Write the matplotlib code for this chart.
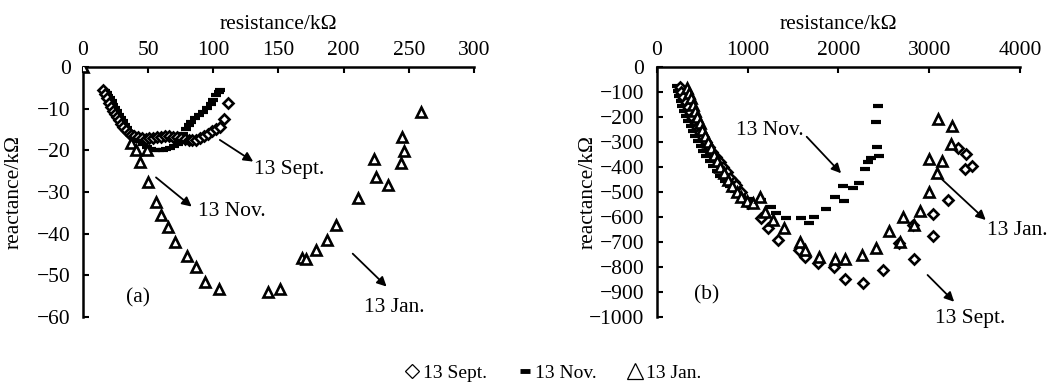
import matplotlib
matplotlib.use("Agg")
import matplotlib.pyplot as plt
from matplotlib.lines import Line2D

plt.rcParams["font.family"] = ["Liberation Serif", "DejaVu Serif"]
plt.rcParams["font.size"] = 15.5

# ---- panel (a): values in kOhm ----
sept_a_x = [15.5, 17, 18.5, 20, 21.5, 23, 24.5, 26, 27.5, 29, 31, 33, 35, 37, 39, 42, 45, 48, 51, 54,
            57, 60, 63, 66, 69, 72, 75, 78, 81, 84, 87, 90, 93, 96, 99, 102, 105, 108, 111]
sept_a_y = [-5.4, -6.5, -7.5, -8.6, -9.6, -10.5, -11.3, -12, -12.8, -13.6, -14.4, -15.1, -15.8, -16.3,
            -16.6, -16.9, -17.1, -17.2, -17.1, -17, -16.9, -16.7, -16.6, -16.6, -16.8, -16.9, -17.1,
            -17.3, -17.5, -17.6, -17.4, -17, -16.5, -16, -15.4, -14.9, -14.3, -12.4, -8.6]

nov_a_x = [17, 18.5, 19.5, 21, 22, 23, 24.5, 26, 27.5, 29, 30.5, 32, 34, 36, 38, 40, 43, 46, 49, 52,
           55, 58, 61, 64, 67, 70, 73, 75, 77, 79, 81, 83, 86, 89, 92, 95, 98, 100, 102, 104, 105]
nov_a_y = [-5.8, -6.3, -6.9, -7.5, -8.2, -9, -9.8, -10.6, -11.4, -12.2, -13, -13.8, -14.7, -15.5,
           -16.3, -17, -17.8, -18.5, -19.1, -19.6, -19.9, -20, -19.9, -19.7, -19.4, -19, -18.5, -17.5,
           -16, -14.8, -14, -13.2, -12.3, -11.6, -10.8, -9.8, -8.8, -7.8, -6.8, -6, -5.5]

jan_a_x = [0, 37, 41, 49, 44, 50, 56, 60, 65, 70.5, 79.5, 86.7, 93.6, 104.5, 141.6, 151, 167.7,
           171.5, 178.7, 187.4, 194, 211, 223, 224.7, 234, 244.4, 246, 245, 259.7]
jan_a_y = [0, -18.2, -19.9, -20, -22.7, -27.5, -32.3, -35.5, -38.3, -41.9, -45.3, -47.9, -51.7, -53.2,
           -54.1, -53.3, -45.9, -46.1, -43.9, -41.5, -37.9, -31.5, -22.1, -26.5, -28.3, -23.1, -20.1,
           -16.7, -10.7]

# ---- panel (b): values in kOhm ----
sept_b_x = [250, 270, 290, 315, 340, 365, 390, 415, 445, 475, 505, 540, 575, 610, 650, 690, 730, 770,
            810, 850, 876, 930, 1004, 1150, 1223, 1333, 1564, 1626, 1773, 1956, 2077, 2275, 2487, 2663,
            2817, 2835, 3044, 3044, 3209, 3322, 3403, 3392, 3469]
sept_b_y = [-80, -100, -120, -140, -160, -180, -200, -220, -240, -260, -280, -300, -320, -340, -360,
            -380, -400, -420, -445, -460, -472, -499, -545, -605, -645, -692, -732, -759, -785, -801,
            -848, -865, -812, -705, -632, -768, -676, -589, -532, -325, -349, -408, -396]

nov_b_x = [216, 230, 245, 262, 280, 300, 320, 345, 370, 395, 420, 450, 480, 510, 545, 580, 620, 660,
           700, 750, 800, 860, 930, 1000, 1150, 1260, 1315, 1425, 1590, 1674, 1736, 1864, 1967, 2066,
           2047, 2157, 2231, 2297, 2322, 2359, 2451, 2421, 2414, 2432]
nov_b_y = [-76, -95, -115, -135, -155, -175, -195, -215, -235, -255, -275, -295, -315, -335, -355, -375,
           -395, -415, -435, -455, -475, -495, -515, -530, -532, -561, -585, -605, -605, -623, -601,
           -569, -519, -535, -476, -485, -463, -409, -379, -363, -355, -321, -219, -156]

jan_b_x = [330, 350, 370, 395, 420, 445, 470, 500, 530, 560, 595, 630, 665, 700, 740, 780, 830, 880,
           930, 990, 1060, 1132, 1187, 1278, 1396, 1571, 1626, 1784, 1967, 2077, 2260, 2414, 2560,
           2678, 2707, 2835, 2897, 3000, 3081, 2993, 3146, 3238, 3102, 3256]
jan_b_y = [-85, -105, -125, -150, -175, -200, -225, -250, -275, -300, -325, -350, -375, -400, -425,
           -450, -475, -500, -520, -535, -545, -519, -579, -612, -645, -699, -732, -761, -769, -769,
           -752, -725, -655, -699, -601, -632, -575, -499, -425, -368, -376, -309, -209, -236]

labels = ["13 Sept.", "13 Nov.", "13 Jan."]

fig = plt.figure(figsize=(10.62, 3.84), dpi=100)
ax1 = fig.add_axes([0.0782, 0.1745, 0.368, 0.651])
ax2 = fig.add_axes([0.6186, 0.1745, 0.3418, 0.651])


def style_axis(ax, ylabel_x):
    ax.spines["bottom"].set_visible(False)
    ax.spines["right"].set_visible(False)
    ax.spines["top"].set_linewidth(1.8)
    ax.spines["left"].set_linewidth(1.8)
    ax.xaxis.tick_top()
    ax.xaxis.set_label_position("top")
    ax.tick_params(direction="in", length=4, width=1.5)
    ax.tick_params(axis="x", pad=5)
    ax.tick_params(axis="y", pad=9)
    ax.set_xlabel("resistance/k\u03a9", labelpad=9)
    ax.set_ylabel("reactance/k\u03a9")
    # x coordinate is the right edge of the rotated label
    ax.yaxis.set_label_coords(ylabel_x, 0.5)


def draw_series(ax, sx, sy, nx, ny, jx, jy, dash_ms):
    ax.plot(nx, ny, ls="none", marker="_", ms=dash_ms, mew=3, color="black", zorder=2)
    ax.plot(sx, sy, ls="none", marker="D", ms=4.8, mew=1.9, mfc="white", mec="black", zorder=3)
    ax.plot(jx, jy, ls="none", marker="^", ms=7, mew=1.9, mfc="white", mec="black", zorder=4)


draw_series(ax1, sept_a_x, sept_a_y, nov_a_x, nov_a_y, jan_a_x, jan_a_y, 7)
style_axis(ax1, -0.153)
ax1.set_xlim(0, 300)
ax1.set_ylim(-60, 0)
ax1.set_xticks(range(0, 301, 50))
ax1.set_yticks(range(-60, 1, 10))
ax1.text(42, -55.4, "(a)", ha="center", va="center")
arrow = dict(arrowstyle="-|>", color="black", lw=1.3, mutation_scale=14, shrinkA=0, shrinkB=0)
ax1.annotate("", xy=(130.6, -22.7), xytext=(105, -17.5), arrowprops=arrow)
ax1.text(131, -24.5, "13 Sept.", ha="left", va="center")
ax1.annotate("", xy=(83.4, -33.5), xytext=(56, -26.5), arrowprops=arrow)
ax1.text(88, -34.8, "13 Nov.", ha="left", va="center")
ax1.annotate("", xy=(233, -52.7), xytext=(207, -44.8), arrowprops=arrow)
ax1.text(239, -57.8, "13 Jan.", ha="center", va="center")

draw_series(ax2, sept_b_x, sept_b_y, nov_b_x, nov_b_y, jan_b_x, jan_b_y, 7)
style_axis(ax2, -0.163)
ax2.set_xlim(0, 4000)
ax2.set_ylim(-1000, 0)
ax2.set_xticks(range(0, 4001, 1000))
ax2.set_yticks(range(-1000, 1, 100))
ax2.text(546, -912, "(b)", ha="center", va="center")
ax2.annotate("", xy=(2029, -425), xytext=(1650, -279), arrowprops=arrow)
ax2.text(1620, -252, "13 Nov.", ha="right", va="center")
ax2.annotate("", xy=(3623, -612), xytext=(3110, -439), arrowprops=arrow)
ax2.text(3640, -655, "13 Jan.", ha="left", va="center")
ax2.annotate("", xy=(3275, -939), xytext=(2982, -832), arrowprops=arrow)
ax2.text(3450, -1005, "13 Sept.", ha="center", va="center")

handles = [
    Line2D([], [], ls="none", marker="D", ms=7.5, mew=0.9, mfc="white", mec="black"),
    Line2D([], [], ls="none", marker="_", ms=7, mew=3.5, color="black"),
    Line2D([], [], ls="none", marker="^", ms=11, mew=0.9, mfc="white", mec="black"),
]
fig.legend(handles, labels, loc="center", bbox_to_anchor=(552 / 1062, 1 - 373 / 384), ncol=3,
           frameon=False, handletextpad=0.1, columnspacing=1.5, handlelength=0.9, fontsize=14)

fig.savefig("out.png", dpi=100)
